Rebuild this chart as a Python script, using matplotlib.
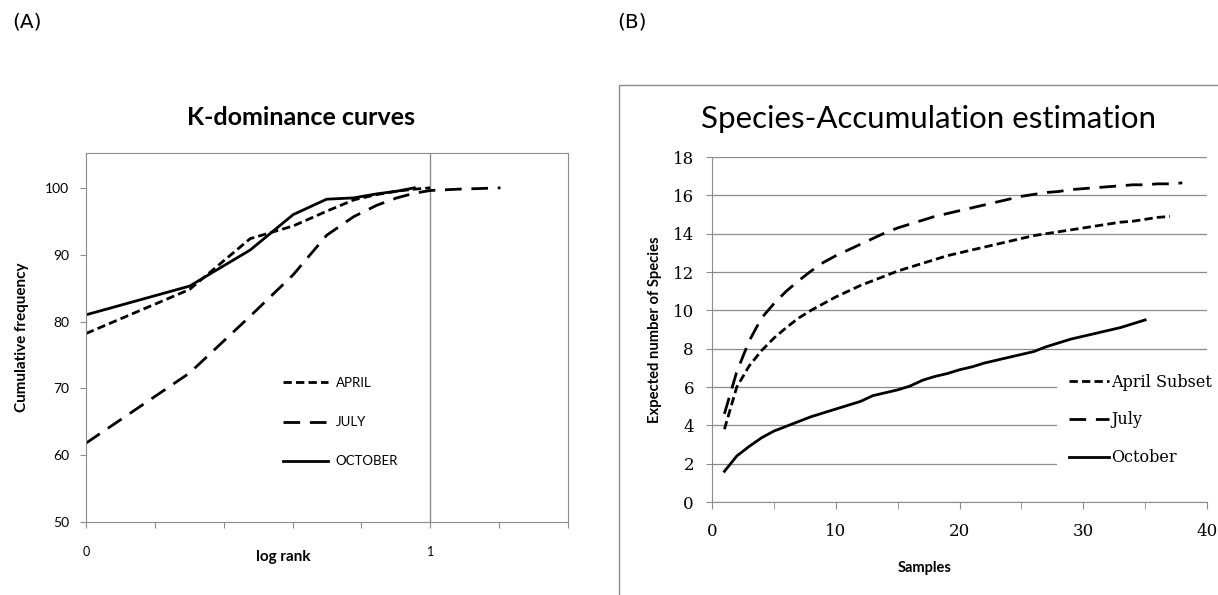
import matplotlib
matplotlib.use('agg')
import matplotlib.pyplot as plt
from matplotlib.patches import Rectangle
import numpy as np

plt.rcParams['lines.scale_dashes'] = False

# (A) K-dominance curves: log rank vs cumulative frequency
april_logrank = [0.0, 0.301, 0.477, 0.602, 0.699, 0.778, 0.845, 0.903, 0.954, 1.0]
april_cum = [78.2, 84.8, 92.4, 94.3, 96.5, 98.2, 99.0, 99.5, 99.8, 100.0]

july_logrank = [0.0, 0.301, 0.477, 0.602, 0.699, 0.778, 0.845, 0.903, 0.954,
                1.0, 1.041, 1.079, 1.114, 1.146, 1.176, 1.204]
july_cum = [61.8, 72.3, 80.8, 87.0, 92.9, 95.7, 97.4, 98.5, 99.2,
            99.6, 99.7, 99.8, 99.85, 99.9, 99.95, 100.0]

oct_logrank = [0.0, 0.301, 0.477, 0.602, 0.699, 0.778, 0.845, 0.903, 0.954]
oct_cum = [81.0, 85.3, 90.7, 96.0, 98.3, 98.5, 99.1, 99.5, 100.0]

# (B) species accumulation: expected species per number of samples
april_sub = [3.8, 6.0, 7.1, 7.9, 8.55, 9.1, 9.6, 10.0, 10.35, 10.7,
             11.0, 11.3, 11.55, 11.8, 12.05, 12.25, 12.45, 12.65, 12.85, 13.0,
             13.15, 13.3, 13.45, 13.6, 13.75, 13.9, 14.0, 14.1, 14.2, 14.3,
             14.4, 14.5, 14.6, 14.65, 14.75, 14.85, 14.9]
july_acc = [4.6, 6.8, 8.4, 9.6, 10.35, 11.0, 11.55, 12.05, 12.5, 12.85,
            13.15, 13.45, 13.75, 14.05, 14.3, 14.5, 14.7, 14.9, 15.05, 15.2,
            15.35, 15.5, 15.65, 15.8, 15.95, 16.05, 16.15, 16.2, 16.3, 16.35,
            16.4, 16.45, 16.5, 16.55, 16.55, 16.6, 16.6, 16.65]
oct_acc = [1.6, 2.4, 2.9, 3.35, 3.7, 3.95, 4.2, 4.45, 4.65, 4.85,
           5.05, 5.25, 5.55, 5.7, 5.85, 6.05, 6.35, 6.55, 6.7, 6.9,
           7.05, 7.25, 7.4, 7.55, 7.7, 7.85, 8.1, 8.3, 8.5, 8.65,
           8.8, 8.95, 9.1, 9.3, 9.5]

grey = '#8c8c8c'
short_dash = (0, (6, 3))
long_dash = (0, (12, 7))
lw = 2.0

fig = plt.figure(figsize=(12.18, 5.95), dpi=100)

fig.text(0.01, 0.963, '(A)', fontsize=14.5, family='DejaVu Sans', va='center')
fig.text(0.507, 0.963, '(B)', fontsize=14.5, family='DejaVu Sans', va='center')

# ---- panel A
ax1 = fig.add_axes([0.0706, 0.1227, 0.3957, 0.620])
ax1.plot(april_logrank, april_cum, color='black', lw=lw, ls=short_dash, label='APRIL')
ax1.plot(july_logrank, july_cum, color='black', lw=lw, ls=long_dash, label='JULY')
ax1.plot(oct_logrank, oct_cum, color='black', lw=lw, ls='-', label='OCTOBER')
ax1.axvline(1.0, color=grey, lw=1.0, zorder=0)
ax1.set_xlim(0, 1.4)
ax1.set_ylim(50, 105.2)
ax1.set_xticks(np.arange(0, 1.41, 0.2))
ax1.set_xticklabels(['0', '', '', '', '', '1', '', ''])
ax1.set_yticks([50, 60, 70, 80, 90, 100])
for s in ax1.spines.values():
    s.set_color(grey)
ax1.tick_params(axis='x', length=4, color=grey, pad=13, labelsize=9)
ax1.tick_params(axis='y', length=4, color=grey, pad=8, labelsize=10)
for t in ax1.get_xticklabels() + ax1.get_yticklabels():
    t.set_family('Lato')
ax1.text(0.41, -0.095, 'log rank', transform=ax1.transAxes, ha='center', va='center',
         fontsize=11, fontweight='bold', family='Lato')
ax1.set_ylabel('Cumulative frequency', fontsize=11, fontweight='bold', family='Lato',
               labelpad=12)
fig.text(0.247, 0.803, 'K-dominance curves', ha='center', va='center',
         fontsize=18, fontweight='bold', family='Lato')
ax1.legend(loc='upper left', bbox_to_anchor=(0.385, 0.425), frameon=False,
           handlelength=3.4, handletextpad=0.55, labelspacing=2.05,
           prop={'family': 'Lato', 'size': 9.5})

# ---- panel B
fig.patches.append(Rectangle((619 / 1218, -0.1), 1.0, (595 - 85) / 595 + 0.1,
                             transform=fig.transFigure, facecolor='none',
                             edgecolor=grey, lw=1.0))
ax2 = fig.add_axes([0.5846, 0.1563, 0.4064, 0.5798])
x_apr = np.arange(1, len(april_sub) + 1)
x_jul = np.arange(1, len(july_acc) + 1)
x_oct = np.arange(1, len(oct_acc) + 1)
ax2.plot(x_apr, april_sub, color='black', lw=lw, ls=short_dash, label='April Subset')
ax2.plot(x_jul, july_acc, color='black', lw=lw, ls=long_dash, label='July')
ax2.plot(x_oct, oct_acc, color='black', lw=lw, ls='-', label='October')
ax2.set_xlim(0, 40)
ax2.set_ylim(0, 18)
ax2.set_yticks(range(0, 19, 2))
ax2.set_xticks(range(0, 41, 10))
ax2.set_xticks(range(0, 41, 5), minor=True)
ax2.grid(axis='y', color=grey, lw=0.9)
ax2.set_axisbelow(True)
ax2.spines['top'].set_visible(False)
ax2.spines['right'].set_visible(False)
ax2.spines['left'].set_color(grey)
ax2.spines['bottom'].set_color(grey)
ax2.tick_params(axis='x', which='both', length=5, color=grey, pad=10, labelsize=12)
ax2.tick_params(axis='y', length=4, color=grey, pad=9, labelsize=12)
for t in ax2.get_xticklabels() + ax2.get_yticklabels():
    t.set_family('DejaVu Serif')
ax2.text(0.43, -0.19, 'Samples', transform=ax2.transAxes, ha='center', va='center',
         fontsize=10.5, fontweight='bold', family='Lato')
ax2.set_ylabel('Expected number of Species', fontsize=10.6, fontweight='bold',
               family='Lato', labelpad=8)
fig.text(0.762, 0.80, 'Species-Accumulation estimation', ha='center', va='center',
         fontsize=22.5, family='Lato')
leg = ax2.legend(loc='upper left', bbox_to_anchor=(0.68, 0.432), frameon=True,
                 facecolor='white', edgecolor='none', framealpha=1.0, fancybox=False,
                 handlelength=2.5, handletextpad=0.1, labelspacing=1.3,
                 borderpad=0.8, prop={'family': 'DejaVu Serif', 'size': 11.5})

fig.savefig('out.png', dpi=100)
